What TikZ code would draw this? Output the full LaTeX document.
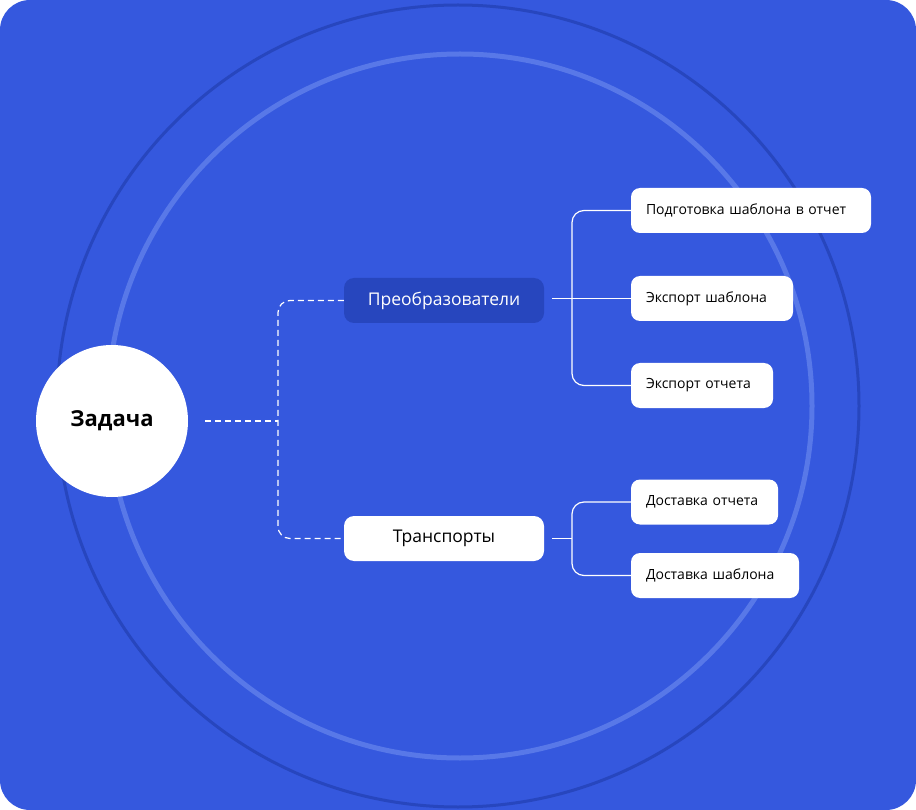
\documentclass[tikz,border=0pt]{standalone}
\usepackage{fontspec}
\setmainfont{Open Sans}
\begin{document}
\begin{tikzpicture}[x=1pt,y=-1pt,
 leaf/.style={fill=white,rounded corners=9pt,inner sep=0pt,font=\fontsize{14}{15}\selectfont,text=black,minimum height=45pt,text width=#1-30pt,align=left,inner xsep=15pt},
 mid/.style={rounded corners=10pt,inner sep=0pt,minimum width=200pt,minimum height=45pt,font=\fontsize{17.5}{19}\selectfont},
 wl/.style={white,line width=1.2pt,rounded corners=12pt},
 dl/.style={white,line width=1.2pt,dash pattern=on 6pt off 4pt,rounded corners=12pt}]
\definecolor{bg}{HTML}{3558DE}
\definecolor{dk}{HTML}{2746BE}
\definecolor{lt}{HTML}{5878E8}
\useasboundingbox (0,0) rectangle (916,810);
\fill[bg,rounded corners=30pt] (0,0) rectangle (916,810);
\draw[dk,line width=3pt] (458,406) circle (401);
\draw[lt,line width=5pt] (460,406) circle (352);
\node[circle,fill=white,minimum size=152pt,font=\fontsize{22}{24}\selectfont\bfseries] (z) at (112,421) {Задача};
\node[mid,fill=dk,text=white] (p) at (444,300.5) {Преобразователи};
\node[mid,fill=white,text=black] (t) at (444,538.5) {Транспорты};
\node[leaf=240pt] (a1) at (751,210.5) {Подготовка шаблона в отчет};
\node[leaf=162pt] (a2) at (712,298.5) {Экспорт шаблона};
\node[leaf=142pt] (a3) at (702,385.5) {Экспорт отчета};
\node[leaf=147pt] (b1) at (704.5,502) {Доставка отчета};
\node[leaf=168pt] (b2) at (715,575.5) {Доставка шаблона};
\coordinate (zr) at (205,421);
\draw[dl] (zr) -- (278,421);
\draw[dl] (p.west) -- (278,300.5) -- (278,538.5) -- (t.west);
\draw[wl] ([xshift=8pt]p.east |- a2.west) -- (a2.west);
\draw[wl] (a1.west) -- (572,210.5) -- (572,385.5) -- (a3.west);
\draw[wl] ([xshift=8pt]t.east) -- (572,538.5);
\draw[wl] (b1.west) -- (572,502) -- (572,575.5) -- (b2.west);
\end{tikzpicture}
\end{document}
